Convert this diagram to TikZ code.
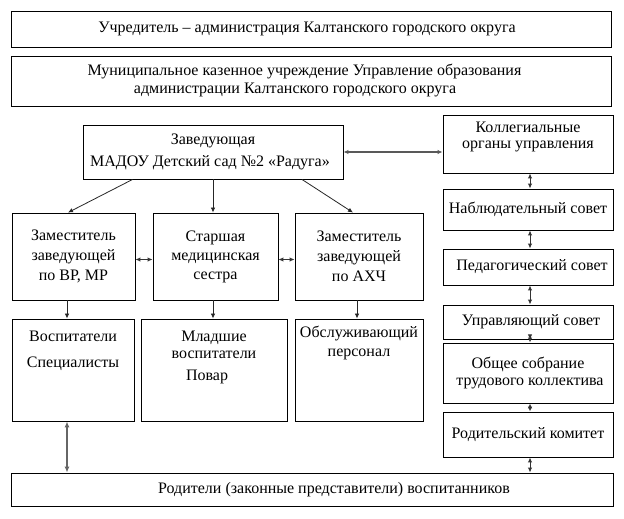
\documentclass[tikz,border=0pt]{standalone}
\usepackage{fontspec}
\setmainfont{Liberation Serif}
\usetikzlibrary{arrows.meta}
\begin{document}
\begin{tikzpicture}[x=1pt,y=-1pt,
  box/.style={draw=black,line width=0.9pt,inner sep=0pt,align=center,font=\fontsize{16}{19}\selectfont},
  arr/.style={-{Latex[length=5pt,width=4.5pt]},line width=0.8pt,draw=black!85},
  darr/.style={{Latex[length=5pt,width=4.5pt]}-{Latex[length=5pt,width=4.5pt]},line width=1pt,draw=black!80},
  thick arr/.style={{Latex[length=6pt,width=5pt]}-{Latex[length=6pt,width=5pt]},line width=2.4pt,draw=black!60}]
\useasboundingbox (0,0) rectangle (624,519);
\fill[white] (0,0) rectangle (624,519);
% top boxes
\node[box,minimum width=600pt,minimum height=36pt] (b1) at (311,29) {Учредитель – администрация Калтанского городского округа\hspace*{8pt}};
\node[box,minimum width=600pt,minimum height=50pt,font=\fontsize{16}{18}\selectfont] (b2) at (311,81) {Муниципальное казенное учреждение Управление образования\hspace*{13pt}\\администрации Калтанского городского округа\hspace*{32pt}};
% head
\node[box,minimum width=260pt,minimum height=54pt] (zav) at (213,152) {Заведующая\\[3pt]МАДОУ Детский сад №2 «Радуга»\hspace*{6pt}};
% right column
\node[box,minimum width=170pt,minimum height=58pt] (kol) at (528,144) {\parbox[c][58pt][t]{170pt}{\centering\vspace*{7pt}Коллегиальные\\[-3pt]органы управления}};
\node[box,minimum width=170pt,minimum height=41pt] (nab) at (528,209.5) {Наблюдательный совет};
\node[box,minimum width=170pt,minimum height=36pt] (ped) at (528,267) {\hspace*{8pt}Педагогический совет};
\node[box,minimum width=170pt,minimum height=34pt] (upr) at (528,322) {\hspace*{6pt}Управляющий совет};
\node[box,minimum width=170pt,minimum height=60pt] (obs) at (528,373) {Общее собрание\\[-2pt]\hspace*{4pt}трудового коллектива};
\node[box,minimum width=170pt,minimum height=45pt] (rod) at (528,434.5) {Родительский комитет};
% level 2
\node[box,minimum width=123pt,minimum height=87pt] (zA) at (73.5,256.5) {Заместитель\\[1pt]заведующей\\[1pt]по ВР, МР};
\node[box,minimum width=125pt,minimum height=87pt] (zB) at (215.5,256.5) {Старшая\\[0pt]медицинская\\[0pt]сестра};
\node[box,minimum width=128pt,minimum height=87pt] (zC) at (359,256.5) {Заместитель\\[1pt]заведующей\\[1pt]по АХЧ};
% level 3
\node[box,minimum width=122pt,minimum height=102pt] (lA) at (73,370) {\parbox[c][102pt][t]{122pt}{\centering\vspace*{12pt}Воспитатели\\[7pt]Специалисты}};
\node[box,minimum width=146pt,minimum height=102pt] (lB) at (214,370) {\parbox[c][102pt][t]{146pt}{\centering\vspace*{12pt}Младшие\\[-2pt]воспитатели\\[3pt]\hspace*{-14pt}Повар}};
\node[box,minimum width=128pt,minimum height=102pt] (lC) at (359,370) {\parbox[c][102pt][t]{128pt}{\centering\vspace*{7pt}Обслуживающий\\[0pt]персонал}};
% parents
\node[box,minimum width=602pt,minimum height=33pt] (par) at (312,489.5) {\hspace*{44pt}Родители (законные представители) воспитанников};
% connectors
\draw[arr] ([xshift=50pt]zav.south west) -- ([xshift=-5.5pt]zA.north);
\draw[arr] ([xshift=0pt]zav.south) -- (zav.south |- zB.north);
\draw[arr] ([xshift=89pt]zav.south) -- ([xshift=-6pt]zC.north);
\draw[darr] ([yshift=-3pt]zA.east) -- ([yshift=-3pt]zB.west);
\draw[darr] ([yshift=-3pt]zB.east) -- ([yshift=-3pt]zC.west);
\draw[arr] ([xshift=-6.5pt]zA.south) -- ([xshift=-6.5pt]zA.south |- lA.north);
\draw[arr] ([xshift=-2.5pt]zB.south) -- ([xshift=-2.5pt]zB.south |- lB.north);
\draw[arr] ([xshift=-2pt]zC.south) -- ([xshift=-2pt]zC.south |- lC.north);
\draw[thick arr] ([xshift=-6pt]lA.south) -- ([xshift=-6pt]lA.south |- par.north);
\draw[darr,draw=black!65,line width=1.3pt] (zav.east) -- (zav.east -| kol.west);
\draw[darr] ([xshift=2pt]kol.south) -- ([xshift=2pt]nab.north);
\draw[darr] ([xshift=2pt]nab.south) -- ([xshift=2pt]ped.north);
\draw[darr] ([xshift=2pt]ped.south) -- ([xshift=2pt]upr.north);
\draw[darr] ([xshift=2pt]upr.south) -- ([xshift=2pt]obs.north);
\draw[darr] ([xshift=2pt]obs.south) -- ([xshift=2pt]rod.north);
\draw[darr] ([xshift=2pt]rod.south) -- ([xshift=2pt]rod.south |- par.north);
\end{tikzpicture}
\end{document}
